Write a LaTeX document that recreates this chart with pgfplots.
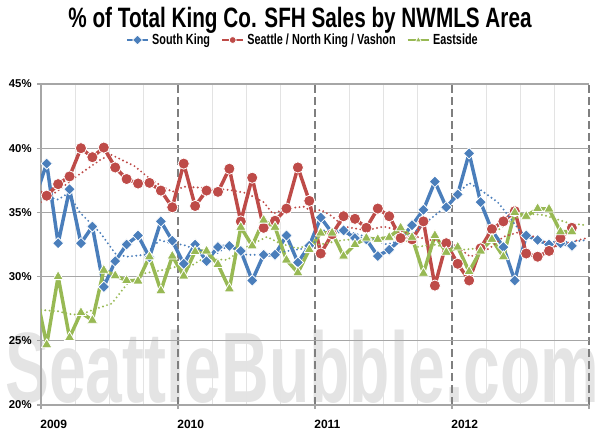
\documentclass[border=0pt]{standalone}
\usepackage{fontspec}
\setmainfont{Liberation Sans}
\usepackage{pgfplots}
\usepackage{pgfplotstable}
\pgfplotsset{compat=1.18}
\definecolor{cBlue}{HTML}{4A7EBB}
\definecolor{cRed}{HTML}{BE4B48}
\definecolor{cGreen}{HTML}{98B954}
\definecolor{gridgray}{HTML}{A6A6A6}
\definecolor{qgray}{HTML}{E3E3E3}
\definecolor{ygray}{HTML}{7F7F7F}
\definecolor{wm}{HTML}{E4E4E4}
\newcommand\cond[1]{\scalebox{0.74}[1]{#1}}

% month index + 0.5 (Jan 2009 = 0.5); first row is Dec 2008 (clipped)
\pgfplotstableread{
x     south seattle east
-0.5  36.2  36.8  29.0
0.5   38.8  36.3  24.7
1.5   32.6  37.2  30.0
2.5   36.8  37.8  25.25
3.5   32.6  40.0  27.2
4.5   33.9  39.3  26.6
5.5   29.2  40.05 30.5
6.5   31.2  38.5  30.07
7.5   32.5  37.6  29.7
8.5   33.2  37.25 29.66
9.5   31.5  37.3  31.55
10.5  34.3  36.7  28.9
11.5  32.8  35.4  31.6
12.5  31.0  38.8  30.05
13.5  32.5  35.5  31.95
14.5  31.2  36.7  32.0
15.5  32.3  36.6  30.95
16.5  32.4  38.4  29.05
17.5  32.0  34.3  33.85
18.5  29.7  37.7  32.4
19.5  31.7  33.8  34.4
20.5  31.7  34.35 33.85
21.5  33.2  35.3  31.3
22.5  31.1  38.5  30.3
23.5  32.4  35.9  32.1
24.5  34.6  31.8  33.4
25.5  33.4  33.3  33.4
26.5  33.6  34.7  31.6
27.5  33.0  34.5  32.5
28.5  32.9  33.8  33.0
29.5  31.6  35.3  32.9
30.5  32.1  34.7  33.06
31.5  32.9  33.0  33.8
32.5  34.0  32.9  33.06
33.5  35.2  34.3  30.26
34.5  37.4  29.3  33.2
35.5  35.4  32.6  31.9
36.5  36.4  31.0  32.3
37.5  39.6  29.7  30.4
38.5  35.8  32.2  32.0
39.5  33.6  33.7  32.9
40.5  32.3  34.3  31.55
41.5  29.7  35.1  35.0
42.5  33.2  31.8  34.7
43.5  32.85 31.55 35.3
44.5  32.5  32.0  35.26
45.5  32.6  33.0  33.5
46.5  32.4  33.8  33.5
}\mainT

\pgfplotstableread{
x y
0.0 36.3
0.5 36.2
1.5 36.0
2.4 36.5
3.4 35.0
5.2 33.4
6.5 31.8
7.5 31.55
9.1 31.7
10.4 32.85
11.7 32.5
12.4 32.5
13.6 32.1
15.4 31.8
16.5 32.5
18.0 31.7
19.4 31.7
20.9 31.9
22.4 32.1
23.8 32.3
24.4 33.6
26.5 33.6
28.5 33.1
30.3 32.5
31.4 32.8
32.9 33.6
34.4 34.7
35.8 35.7
36.5 36.5
37.5 37.3
38.5 36.75
40.0 35.8
40.8 34.9
42.0 33.5
43.5 32.7
44.9 32.7
46.4 32.7
47.8 32.85
}\trendS

\pgfplotstableread{
x y
0.0 35.8
1.5 36.7
3.1 37.8
5.2 39.1
6.1 39.5
6.6 39.3
8.2 38.6
9.7 37.5
11.5 36.6
12.5 37.0
14.5 36.9
16.5 36.75
18.0 36.5
19.5 35.8
20.3 34.9
21.5 35.3
23.0 35.45
23.8 35.05
24.5 35.2
25.5 34.7
26.5 33.9
28.5 33.6
30.0 33.9
31.4 33.6
32.9 33.1
34.1 32.85
35.8 32.7
36.5 32.3
37.6 31.55
39.3 32.2
40.5 33.1
42.0 33.5
43.5 33.0
44.9 32.3
46.4 32.7
47.8 33.0
}\trendR

\pgfplotstableread{
x y
0.0 27.4
1.5 27.3
2.4 27.1
3.4 27.0
4.5 27.4
6.2 27.9
7.6 29.5
9.1 30.26
10.6 30.5
12.0 30.8
12.5 30.5
14.2 31.4
16.3 31.3
18.0 32.3
19.8 33.1
20.9 32.6
22.4 32.2
23.8 32.5
24.4 32.5
26.5 32.85
29.1 33.0
31.4 33.1
32.9 32.3
34.4 32.5
35.8 32.2
37.0 32.1
38.3 32.2
39.7 33.4
41.2 34.4
42.5 34.9
44.0 34.8
46.3 34.15
47.8 34.0
}\trendG

\begin{document}
\begin{tikzpicture}
\useasboundingbox (-30.75pt,-23.25pt) rectangle (419.25pt,303.75pt);
\node[anchor=base west, inner sep=0, text=wm, font=\fontsize{75}{75}\selectfont\bfseries] at (-27pt,2.25pt) {\scalebox{0.66}[1]{SeattleBubble.com}};
\begin{axis}[
  at={(0,0)}, anchor=south west, scale only axis,
  width=411pt, height=240.75pt,
  xmin=0, xmax=48, ymin=20, ymax=45,
  axis x line*=bottom, axis y line*=left,
  axis line style={gridgray, line width=1pt, -},
  xtick={0,12,24,36,48},
  xticklabels={2009,2010,2011,2012,{}},
  minor xtick={3,6,9,15,18,21,27,30,33,39,42,45},
  ytick={20,25,30,35,40,45},
  yticklabels={20\%,25\%,30\%,35\%,40\%,45\%},
  xmajorgrids, xminorgrids, ymajorgrids,
  major x grid style={ygray, line width=0.8pt, dash pattern=on 6pt off 3pt},
  minor x grid style={qgray, line width=1pt},
  major y grid style={gridgray, line width=1pt},
  tick align=outside, major tick length=3pt, minor tick length=0pt,
  tick style={gridgray, line width=1pt},
  yticklabel style={font=\bfseries\fontsize{8.5}{8.5}\selectfont, xshift=-0.5pt},
  xticklabel style={font=\bfseries\fontsize{9}{9}\selectfont, anchor=north west, xshift=-4pt, yshift=-5pt},
  title={\cond{\% of Total King Co. SFH Sales by NWMLS Area}},
  title style={at={(0.4726,1)}, anchor=base, yshift=36.5pt, inner sep=0pt, font=\bfseries\fontsize{21}{21}\selectfont},
  legend style={at={(0.478,1.137)}, anchor=center, draw=none, fill=none,
    legend columns=3, font=\bfseries\fontsize{11}{11}\selectfont,
    /tikz/every even column/.append style={column sep=6pt}},
  legend image code/.code={
    \draw[#1, line width=2pt] (0pt,0pt) -- (16pt,0pt);
    \draw[#1, mark size=2.6pt] plot coordinates {(8pt,0pt)};
  },
  line join=round,
]
\addplot[cBlue, line width=2.6pt, mark=square*, mark size=3pt,
  mark options={rotate=45, fill=cBlue, draw=white, line width=0.6pt}]
  table[x=x, y=south] {\mainT};
\addlegendentry{\cond{South King}}
\addplot[cRed, line width=2.6pt, mark=*, mark size=4.2pt,
  mark options={fill=cRed, draw=white, line width=0.6pt}]
  table[x=x, y=seattle] {\mainT};
\addlegendentry{\cond{Seattle / North King / Vashon}}
\addplot[cGreen, line width=2.6pt, mark=triangle*, mark size=4.5pt,
  mark options={fill=cGreen, draw=white, line width=0.6pt}]
  table[x=x, y=east] {\mainT};
\addlegendentry{\cond{Eastside}}
\addplot[cBlue, line width=1.6pt, line cap=round, dash pattern=on 0pt off 3.2pt, forget plot] table {\trendS};
\addplot[cRed, line width=1.6pt, line cap=round, dash pattern=on 0pt off 3.2pt, forget plot] table {\trendR};
\addplot[cGreen, line width=1.6pt, line cap=round, dash pattern=on 0pt off 3.2pt, forget plot] table {\trendG};
\end{axis}
\end{tikzpicture}
\end{document}
